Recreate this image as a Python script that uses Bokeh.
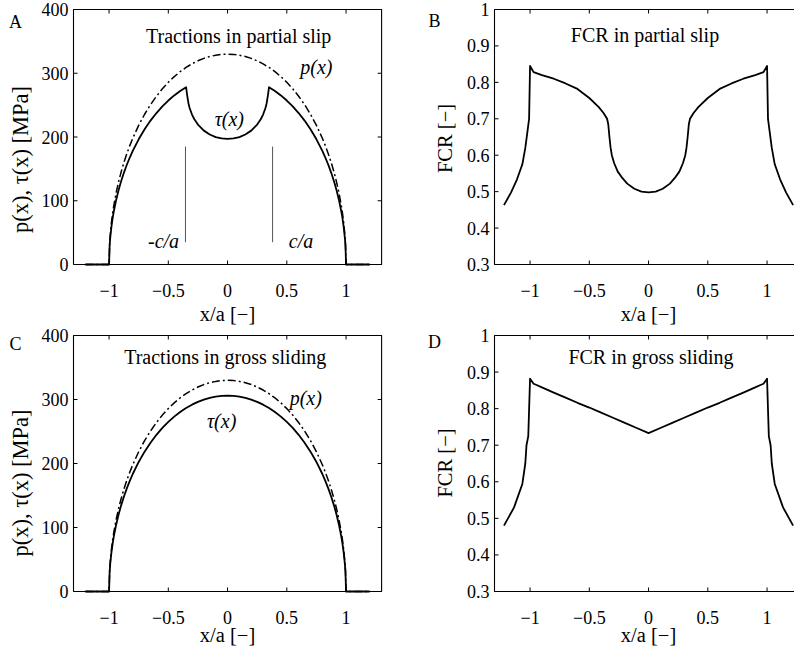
from math import pi
from bokeh.plotting import figure
from bokeh.layouts import row, column
from bokeh.models import Range1d, Label
from bokeh.core.properties import value
from bokeh.embed import file_html
from bokeh.resources import INLINE

# ---------------- data ----------------
x_ticks = [-1, -0.5, 0, 0.5, 1]
x_tick_labels = ["\u22121", "\u22120.5", "0", "0.5", "1"]
trac_ticks = [0, 100, 200, 300, 400]
trac_tick_labels = ["0", "100", "200", "300", "400"]
fcr_ticks = [0.3, 0.4, 0.5, 0.6, 0.7, 0.8, 0.9, 1.0]
fcr_tick_labels = ["0.3", "0.4", "0.5", "0.6", "0.7", "0.8", "0.9", "1"]
x_limits = (-1.3, 1.3)
trac_limits = (0, 400)
fcr_limits = (0.3, 1.0)

x_trac = [-1.2, -1.1, -1.0, -0.995, -0.99, -0.98, -0.97, -0.96, -0.94, -0.92,
          -0.9, -0.875, -0.85, -0.825, -0.8, -0.75, -0.7, -0.65, -0.6, -0.55,
          -0.5, -0.45, -0.4, -0.35, -0.3, -0.25, -0.2, -0.15, -0.1, -0.05,
          0.0,
          0.05, 0.1, 0.15, 0.2, 0.25, 0.3, 0.35, 0.4, 0.45, 0.5,
          0.55, 0.6, 0.65, 0.7, 0.75, 0.8, 0.825, 0.85, 0.875, 0.9,
          0.92, 0.94, 0.96, 0.97, 0.98, 0.99, 0.995, 1.0, 1.1, 1.2]

p_contact = [0, 0, 0, 33.0, 46.6, 65.7, 80.2, 92.4, 112.6, 129.3,
             143.8, 159.8, 173.8, 186.5, 198.0, 218.3, 235.7, 250.8, 264.0, 275.6,
             285.8, 294.7, 302.5, 309.1, 314.8, 319.5, 323.3, 326.3, 328.3, 329.6,
             330.0,
             329.6, 328.3, 326.3, 323.3, 319.5, 314.8, 309.1, 302.5, 294.7, 285.8,
             275.6, 264.0, 250.8, 235.7, 218.3, 198.0, 186.5, 173.8, 159.8, 143.8,
             129.3, 112.6, 92.4, 80.2, 65.7, 46.6, 33.0, 0, 0, 0]

tau_gross = [0, 0, 0, 30.6, 43.2, 60.9, 74.4, 85.7, 104.4, 119.9,
             133.4, 148.1, 161.2, 172.9, 183.6, 202.4, 218.5, 232.5, 244.8, 255.6,
             265.0, 273.3, 280.5, 286.6, 291.9, 296.3, 299.8, 302.5, 304.5, 305.6,
             306.0,
             305.6, 304.5, 302.5, 299.8, 296.3, 291.9, 286.6, 280.5, 273.3, 265.0,
             255.6, 244.8, 232.5, 218.5, 202.4, 183.6, 172.9, 161.2, 148.1, 133.4,
             119.9, 104.4, 85.7, 74.4, 60.9, 43.2, 30.6, 0, 0, 0]

x_tau_partial = [-1.2, -1.1, -1.0, -0.995, -0.99, -0.98, -0.97, -0.96, -0.94, -0.92,
                 -0.9, -0.875, -0.85, -0.825, -0.8, -0.75, -0.7, -0.65, -0.6, -0.55,
                 -0.5, -0.45, -0.4, -0.35, -0.34, -0.33, -0.32, -0.3, -0.28, -0.25,
                 -0.2, -0.15, -0.1, -0.05,
                 0.0,
                 0.05, 0.1, 0.15, 0.2,
                 0.25, 0.28, 0.3, 0.32, 0.33, 0.34, 0.35, 0.4, 0.45, 0.5,
                 0.55, 0.6, 0.65, 0.7, 0.75, 0.8, 0.825, 0.85, 0.875, 0.9,
                 0.92, 0.94, 0.96, 0.97, 0.98, 0.99, 0.995, 1.0, 1.1, 1.2]
tau_partial = [0, 0, 0, 29.7, 41.9, 59.1, 72.2, 83.2, 101.3, 116.4,
               129.5, 143.8, 156.5, 167.8, 178.2, 196.4, 212.1, 225.7, 237.6, 248.0,
               257.2, 265.2, 272.2, 278.2, 264.5, 253.0, 245.6, 235.2, 227.8, 219.5,
               210.0, 203.9, 199.9, 197.8,
               197.0,
               197.8, 199.9, 203.9, 210.0,
               219.5, 227.8, 235.2, 245.6, 253.0, 264.5, 278.2, 272.2, 265.2, 257.2,
               248.0, 237.6, 225.7, 212.1, 196.4, 178.2, 167.8, 156.5, 143.8, 129.5,
               116.4, 101.3, 83.2, 72.2, 59.1, 41.9, 29.7, 0, 0, 0]

stick_edges = [-0.355, 0.38]
stick_line_bottom = [35, 35]
stick_line_top = [185, 185]

x_fcr_partial = [-1.22, -1.16, -1.11, -1.065, -1.04, -1.022, -1.008, -1.0, -0.97, -0.9,
                 -0.8, -0.7, -0.6, -0.5, -0.42, -0.38, -0.35, -0.34, -0.33, -0.32,
                 -0.31, -0.29, -0.26, -0.22, -0.18, -0.12, -0.06,
                 0.0,
                 0.06, 0.12, 0.18, 0.22, 0.26, 0.29, 0.31,
                 0.32, 0.33, 0.34, 0.35, 0.38, 0.42, 0.5, 0.6, 0.7, 0.8,
                 0.9, 0.97, 1.0, 1.008, 1.022, 1.04, 1.065, 1.11, 1.16, 1.22]
fcr_partial = [0.463, 0.498, 0.534, 0.575, 0.62, 0.665, 0.70, 0.845, 0.828, 0.82,
               0.81, 0.797, 0.782, 0.757, 0.732, 0.716, 0.70, 0.685, 0.65, 0.62,
               0.60, 0.578, 0.555, 0.537, 0.522, 0.508, 0.500,
               0.498,
               0.500, 0.508, 0.522, 0.537, 0.555, 0.578, 0.60,
               0.62, 0.65, 0.685, 0.70, 0.716, 0.732, 0.757, 0.782, 0.797, 0.81,
               0.82, 0.828, 0.845, 0.70, 0.665, 0.62, 0.575, 0.534, 0.498, 0.463]

x_fcr_gross = [-1.22, -1.135, -1.065, -1.04, -1.03, -1.015, -1.0, -0.97, -0.94, -0.9,
               -0.8, -0.7, -0.6, -0.5, -0.4, -0.3, -0.2, -0.1,
               0.0,
               0.1, 0.2, 0.3, 0.4, 0.5, 0.6, 0.7, 0.8,
               0.9, 0.94, 0.97, 1.0, 1.015, 1.03, 1.04, 1.065, 1.135, 1.22]
fcr_gross = [0.48, 0.53, 0.594, 0.65, 0.70, 0.725, 0.882, 0.868, 0.864, 0.858,
             0.844, 0.830, 0.816, 0.803, 0.789, 0.775, 0.761, 0.747,
             0.733,
             0.747, 0.761, 0.775, 0.789, 0.803, 0.816, 0.830, 0.844,
             0.858, 0.864, 0.868, 0.882, 0.725, 0.70, 0.65, 0.594, 0.53, 0.48]

# ---------------- styling ----------------
SERIF = "Liberation Serif"
TICK_FS = "18px"
LABEL_FS = "20.5px"
YLABEL_TR_FS = "22.5px"
TEXT_FS = "20px"
LETTER_FS = "18px"
LW = 1.8
PX_PER_X = 118.5   # horizontal pixels per x/a unit
TOP_H, BOT_H = 326, 323


def panel(W, H, L, T, B, ylim, yticks, ylabels, right_visible):
    """Figure whose frame covers the whole canvas; the axes box is drawn inside."""
    x0, x1 = x_limits
    y0, y1 = ylim
    sy = (B - T) / (y1 - y0)
    xr = Range1d(x0 - L / PX_PER_X, x0 + (W - L) / PX_PER_X)
    yr = Range1d(y0 - (H - B) / sy, y1 + T / sy)
    p = figure(width=W, height=H, x_range=xr, y_range=yr, output_backend="svg",
               toolbar_location=None, min_border=0, x_axis_location=None,
               y_axis_location=None, title=None)
    p.grid.visible = False
    p.outline_line_color = None
    p.background_fill_color = "white"
    p.border_fill_color = "white"
    # axes box
    if right_visible:
        p.line([x0, x1, x1, x0, x0], [y0, y0, y1, y1, y0], line_color="black", line_width=1.1)
    else:
        p.line([x1, x0, x0, x1], [y1, y1, y0, y0], line_color="black", line_width=1.1)
    nx, ny = len(x_ticks), len(yticks)
    # inward ticks
    p.ray(x=x_ticks, y=[y0] * nx, length=4, angle=pi / 2, length_units="screen",
          line_color="black", line_width=1)
    p.ray(x=x_ticks, y=[y1] * nx, length=4, angle=-pi / 2, length_units="screen",
          line_color="black", line_width=1)
    p.ray(x=[x0] * ny, y=yticks, length=4, angle=0, length_units="screen",
          line_color="black", line_width=1)
    if right_visible:
        p.ray(x=[x1] * ny, y=yticks, length=4, angle=pi, length_units="screen",
              line_color="black", line_width=1)
    # tick labels
    p.text(x=x_ticks, y=[y0] * nx, text=x_tick_labels, text_align="center",
           text_baseline="alphabetic", y_offset=26, text_font=value(SERIF),
           text_font_size=value(TICK_FS), text_color="black")
    p.text(x=[x0] * ny, y=yticks, text=ylabels, text_align="right",
           text_baseline="middle", x_offset=-5, text_font=value(SERIF),
           text_font_size=value(TICK_FS), text_color="black")
    return p


def note(p, x, y, text, italic=False, size=TEXT_FS, align="center",
         baseline="alphabetic", xu="data", yu="data", angle=0):
    p.add_layout(Label(x=x, y=y, text=text, text_font=SERIF, text_font_size=size,
                       text_font_style="italic" if italic else "normal",
                       text_align=align, text_baseline=baseline, angle=angle,
                       x_units=xu, y_units=yu, text_color="black"))


TR_LABEL = "p(x), \u03c4(x) [MPa]"
FCR_LABEL = "FCR [\u2212]"
X_LABEL = "x/a [\u2212]"

# Panel A (top-left)
pa = panel(397, TOP_H, 73, 9, 264, trac_limits, trac_ticks, trac_tick_labels, True)
pa.line(x_trac, p_contact, line_color="black", line_width=1.5, line_dash="8 3 2 3")
pa.line(x_tau_partial, tau_partial, line_color="black", line_width=LW, line_join="round")
pa.segment(x0=stick_edges, y0=stick_line_bottom, x1=stick_edges, y1=stick_line_top,
           line_color="#555555", line_width=1)
note(pa, 0.094, 358, "Tractions in partial slip")
note(pa, 0.75, 310, "p(x)", italic=True)
note(pa, 0.015, 229, "\u03c4(x)", italic=True)
note(pa, -0.54, 37, "-c/a", italic=True)
note(pa, 0.62, 37, "c/a", italic=True)
note(pa, 0, TOP_H - 313, X_LABEL, size=LABEL_FS, yu="screen")
note(pa, 19.5, TOP_H - 159, TR_LABEL, size=YLABEL_TR_FS, baseline="middle",
     xu="screen", yu="screen", angle=pi / 2)
note(pa, 15, TOP_H - 21.5, "A", size=LETTER_FS, xu="screen", yu="screen")

# Panel B (top-right, clipped at the right edge)
pb = panel(397, TOP_H, 97, 9, 264, fcr_limits, fcr_ticks, fcr_tick_labels, False)
pb.line(x_fcr_partial, fcr_partial, line_color="black", line_width=LW, line_join="round")
note(pb, -0.03, 0.929, "FCR in partial slip")
note(pb, 0, TOP_H - 313, X_LABEL, size=LABEL_FS, yu="screen")
note(pb, 47, TOP_H - 138, FCR_LABEL, size=LABEL_FS, baseline="middle",
     xu="screen", yu="screen", angle=pi / 2)
note(pb, 37, TOP_H - 20.5, "B", size=LETTER_FS, xu="screen", yu="screen")

# Panel C (bottom-left)
pc = panel(397, BOT_H, 73, 9, 265, trac_limits, trac_ticks, trac_tick_labels, True)
pc.line(x_trac, p_contact, line_color="black", line_width=1.5, line_dash="8 3 2 3")
pc.line(x_trac, tau_gross, line_color="black", line_width=LW, line_join="round")
note(pc, -0.02, 366, "Tractions in gross sliding")
note(pc, 0.66, 303, "p(x)", italic=True)
note(pc, -0.05, 267, "\u03c4(x)", italic=True)
note(pc, 0, BOT_H - 308, X_LABEL, size=LABEL_FS, yu="screen")
note(pc, 19.5, BOT_H - 156.5, TR_LABEL, size=YLABEL_TR_FS, baseline="middle",
     xu="screen", yu="screen", angle=pi / 2)
note(pc, 15, BOT_H - 17, "C", size=LETTER_FS, xu="screen", yu="screen")

# Panel D (bottom-right, clipped at the right edge)
pd_ = panel(397, BOT_H, 97, 9, 265, fcr_limits, fcr_ticks, fcr_tick_labels, False)
pd_.line(x_fcr_gross, fcr_gross, line_color="black", line_width=LW, line_join="round")
note(pd_, 0.02, 0.941, "FCR in gross sliding")
note(pd_, 0, BOT_H - 308, X_LABEL, size=LABEL_FS, yu="screen")
note(pd_, 47, BOT_H - 136.5, FCR_LABEL, size=LABEL_FS, baseline="middle",
     xu="screen", yu="screen", angle=pi / 2)
note(pd_, 37, BOT_H - 15, "D", size=LETTER_FS, xu="screen", yu="screen")

layout = column(row(pa, pb, spacing=0), row(pc, pd_, spacing=0), spacing=0)

open("out.html", "w").write(file_html(layout, INLINE))
